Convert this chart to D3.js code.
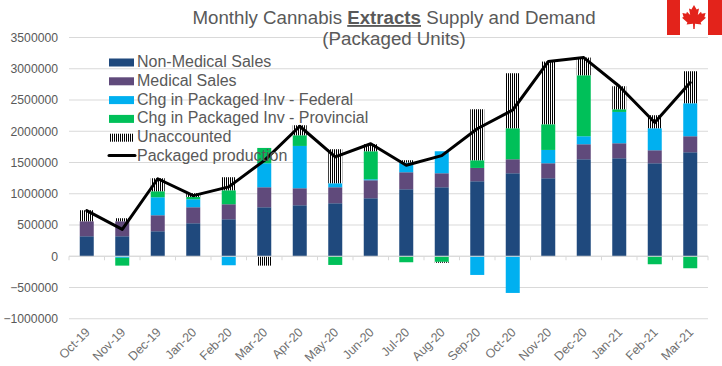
<!DOCTYPE html>
<html>
<head>
<meta charset="utf-8">
<script src="https://cdn.jsdelivr.net/npm/d3@7"></script>
<style>
  html, body { margin: 0; padding: 0; background: #fff; }
  svg { display: block; font-family: 'Liberation Sans', Arial, sans-serif; }
</style>
</head>
<body>
<svg width="722" height="366"></svg>
<script>
'use strict';
const months = ['Oct-19','Nov-19','Dec-19','Jan-20','Feb-20','Mar-20','Apr-20','May-20','Jun-20','Jul-20','Aug-20','Sep-20','Oct-20','Nov-20','Dec-20','Jan-21','Feb-21','Mar-21'];
const y_ticks = [-1000000,-500000,0,500000,1000000,1500000,2000000,2500000,3000000,3500000];

const non_medical = [320000,320000,400000,528000,592000,784000,816000,848000,928000,1072000,1104000,1200000,1328000,1248000,1552000,1568000,1488000,1664000];
const medical = [240000,240000,256000,256000,240000,320000,272000,256000,288000,272000,224000,213000,224000,240000,240000,240000,208000,256000];
const inv_federal = [0,-25000,288000,128000,-144000,384000,677000,64000,16000,155000,352000,-299000,-587000,213000,128000,501000,352000,528000];
const inv_provincial = [0,-125000,96000,37000,224000,245000,171000,-139000,448000,-96000,-90000,123000,496000,411000,976000,43000,-128000,-192000];
const unaccounted = [176000,48000,208000,59000,208000,-150000,160000,544000,112000,37000,-15000,816000,880000,1003000,283000,368000,208000,512000];
const packaged_production = [730000,430000,1240000,970000,1110000,1530000,2080000,1590000,1800000,1456000,1610000,2040000,2340000,3115000,3179000,2720000,2139000,2779000];

const series_names = ['Non-Medical Sales','Medical Sales','Chg in Packaged Inv - Federal','Chg in Packaged Inv - Provincial','Unaccounted'];
const series_values = [non_medical, medical, inv_federal, inv_provincial, unaccounted];
const line_name = 'Packaged production';
const color_scale = ['#1f497d','#604a7b','#00b0f0','#00c059','url(#stripes)'];
const text_color = '#595959';
const grid_color = '#d9d9d9';

const svg = d3.select('svg');
const defs = svg.append('defs');
const stripes = defs.append('pattern')
  .attr('id', 'stripes')
  .attr('patternUnits', 'userSpaceOnUse')
  .attr('width', 2)
  .attr('height', 4);
stripes.append('rect').attr('width', 2).attr('height', 4).attr('fill', '#fff');
stripes.append('rect').attr('width', 1).attr('height', 4).attr('fill', '#000');

const x_scale = d3.scaleBand().domain(months).range([69, 708]);
const y_scale = d3.scaleLinear().domain([-1000000, 3500000]).range([318.75, 37.5]);

//gridlines
svg.append('g')
  .selectAll('line').data(y_ticks).enter()
  .append('line')
    .attr('x1', x_scale.range()[0])
    .attr('x2', x_scale.range()[1])
    .attr('y1', d => y_scale(d))
    .attr('y2', d => y_scale(d))
    .attr('stroke', grid_color)
    .attr('stroke-width', 1);

//left axis, labels only
const left_axis = svg.append('g')
  .attr('transform', 'translate(69,0)')
  .call(d3.axisLeft(y_scale).tickValues(y_ticks).tickFormat(d3.format('d')).tickSize(0).tickPadding(11));
left_axis.select('.domain').remove();
left_axis.selectAll('text')
  .attr('fill', text_color)
  .attr('font-size', 12.2);

//stacked bars, positive and negative values stack away from zero
const stack_rows = months.map((m, i) => {
  const row = {};
  series_names.forEach((name, s) => { row[name] = series_values[s][i]; });
  row.month = m;
  return row;
});
const stacked = d3.stack().keys(series_names).offset(d3.stackOffsetDiverging)(stack_rows);
const bar_width = 14;

svg.append('g')
  .selectAll('g').data(stacked).enter()
  .append('g')
    .attr('fill', (d, i) => color_scale[i])
  .selectAll('rect').data(d => d).enter()
  .append('rect')
    .attr('x', d => x_scale(d.data.month) + (x_scale.bandwidth() - bar_width) / 2)
    .attr('y', d => y_scale(Math.max(d[0], d[1])))
    .attr('width', bar_width)
    .attr('height', d => Math.abs(y_scale(d[0]) - y_scale(d[1])));

//bottom axis, ticks sit between the categories
const bottom_axis = svg.append('g')
  .attr('transform', `translate(0,${y_scale(0)})`);
bottom_axis.append('line')
  .attr('x1', x_scale.range()[0])
  .attr('x2', x_scale.range()[1])
  .attr('stroke', grid_color);
bottom_axis.selectAll('.edge').data(months.concat('end')).enter()
  .append('line')
    .attr('class', 'edge')
    .attr('x1', (d, i) => x_scale.range()[0] + i * x_scale.step())
    .attr('x2', (d, i) => x_scale.range()[0] + i * x_scale.step())
    .attr('y2', 4)
    .attr('stroke', grid_color);

//month labels are at a fixed row below the plot
svg.append('g')
  .selectAll('text').data(months).enter()
  .append('text')
    .attr('transform', d => `translate(${x_scale(d) + x_scale.bandwidth() / 2 + 4},333) rotate(-45)`)
    .attr('text-anchor', 'end')
    .attr('fill', '#707070')
    .attr('font-size', 12.5)
    .text(d => d);

//production line
const line = d3.line()
  .x((d, i) => x_scale(months[i]) + x_scale.bandwidth() / 2)
  .y(d => y_scale(d));
svg.append('path')
  .datum(packaged_production)
  .attr('d', line)
  .attr('fill', 'none')
  .attr('stroke', '#000')
  .attr('stroke-width', 3)
  .attr('stroke-linejoin', 'round')
  .attr('stroke-linecap', 'round');

//legend
const legend = svg.append('g').attr('font-size', 16).attr('fill', text_color);
const legend_rows = series_names.concat(line_name);
const legend_row = legend.selectAll('g').data(legend_rows).enter()
  .append('g')
    .attr('transform', (d, i) => `translate(0,${61.5 + i * 18.8})`);
legend_row.filter((d, i) => i < 4).append('rect')
  .attr('x', 109).attr('y', -3).attr('width', 25).attr('height', 8)
  .attr('fill', (d, i) => color_scale[i]);
legend_row.filter((d, i) => i === 4).append('rect')
  .attr('x', 110).attr('y', -3).attr('width', 23).attr('height', 8)
  .attr('fill', color_scale[4]);
legend_row.filter((d, i) => i === 5).append('line')
  .attr('x1', 109).attr('x2', 135)
  .attr('stroke', '#000').attr('stroke-width', 3).attr('stroke-linecap', 'round');
legend_row.append('text')
  .attr('x', 137)
  .attr('y', 0)
  .attr('dy', '0.34em')
  .text(d => d);

//title
const title = svg.append('g').attr('fill', text_color).attr('font-size', 18.7).attr('text-anchor', 'middle');
const title_line1 = title.append('text').attr('x', 394).attr('y', 24);
title_line1.append('tspan').text('Monthly Cannabis ');
title_line1.append('tspan').attr('font-weight', 'bold').attr('text-decoration', 'underline').text('Extracts');
title_line1.append('tspan').text(' Supply and Demand');
title.append('text').attr('x', 394).attr('y', 45).text('(Packaged Units)');

//flag
const flag = svg.append('g');
flag.append('rect').attr('x', 667).attr('y', 0).attr('width', 55).attr('height', 35).attr('fill', '#e3231b');
flag.append('rect').attr('x', 680).attr('y', 0).attr('width', 28).attr('height', 35).attr('fill', '#fff');
flag.append('path')
  .attr('transform', 'translate(694,5)')
  .attr('fill', '#e3231b')
  .attr('d', 'M0,0 L2.6,4.6 L5,3.4 L3.8,10 L7,6.8 L7.8,8.8 L11.6,8 L10.4,12 L12,12.8 L6.6,17.4 L7.4,19.6 L1,18.8 L0.7,24 L-0.7,24 L-1,18.8 L-7.4,19.6 L-6.6,17.4 L-12,12.8 L-10.4,12 L-11.6,8 L-7.8,8.8 L-7,6.8 L-3.8,10 L-5,3.4 L-2.6,4.6 Z');
</script>
</body>
</html>
